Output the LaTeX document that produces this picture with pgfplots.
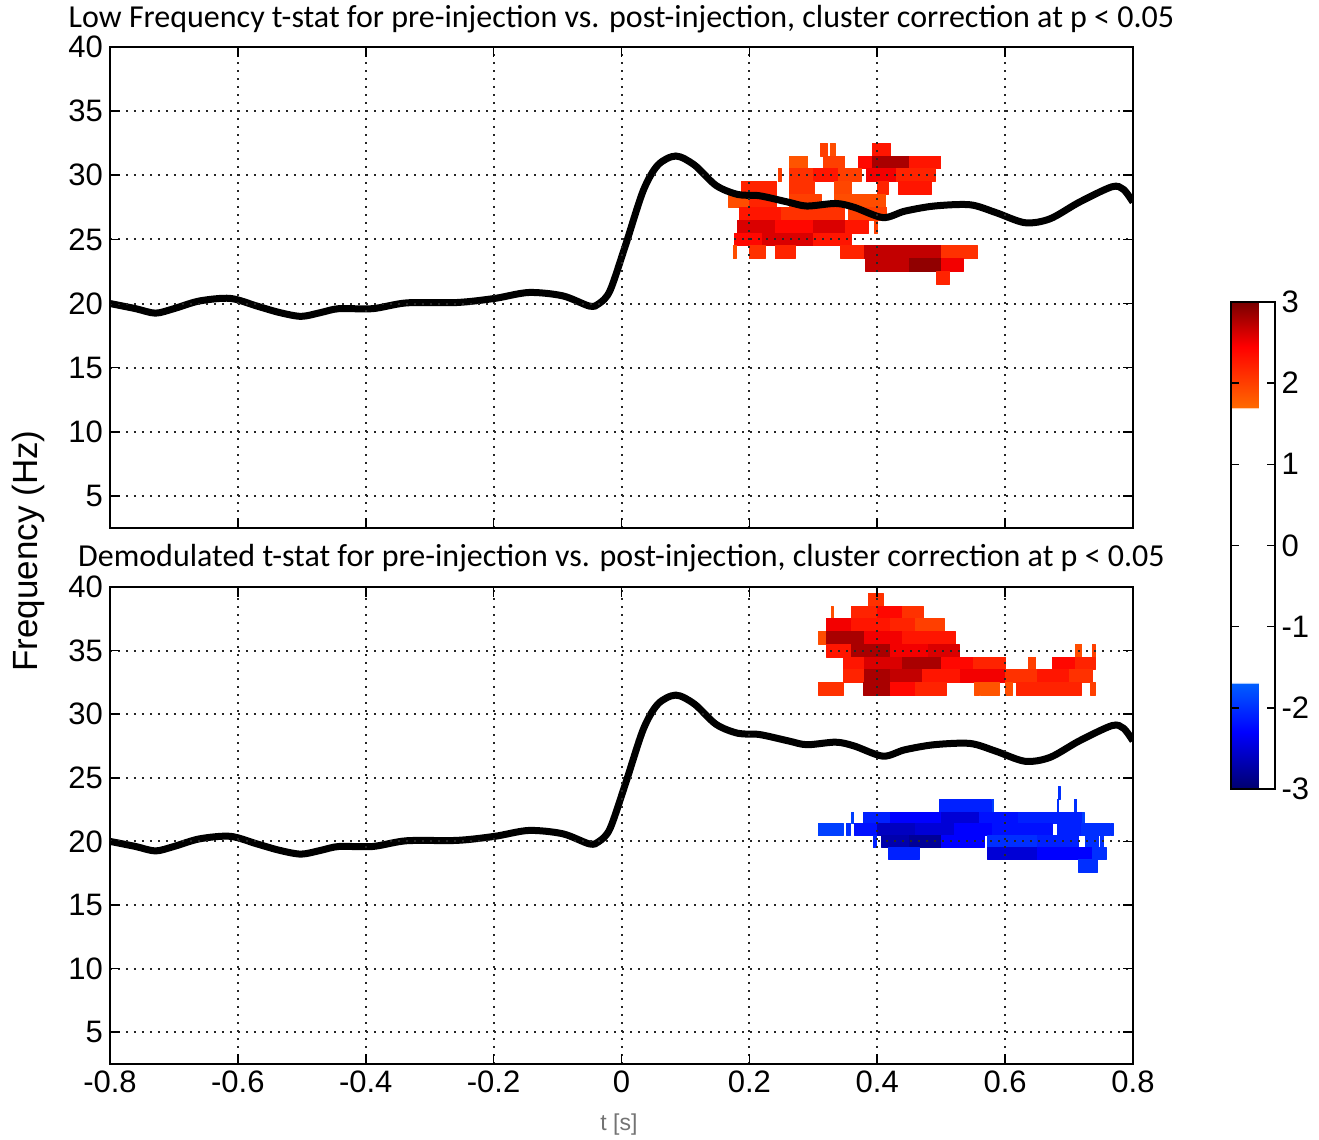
\documentclass[border=0pt]{standalone}
\usepackage{fontspec}
\setmainfont{Liberation Sans}
\newfontfamily\carlito{Carlito}
\usepackage{pgfplots}
\pgfplotsset{compat=1.18}
\usepgfplotslibrary{patchplots}
\usepackage{pgfplotstable}
\pgfkeys{/pgf/number format/assume math mode=true}

\pgfplotstableread{
x y
-0.8 20.0
-0.76 19.6
-0.729 19.25
-0.70 19.6
-0.66 20.2
-0.612 20.4
-0.57 19.8
-0.535 19.3
-0.501 19.0
-0.47 19.3
-0.442 19.6
-0.389 19.6
-0.336 20.05
-0.257 20.08
-0.198 20.4
-0.145 20.86
-0.092 20.6
-0.05 19.8
-0.035 20.0
-0.018 21.0
0.006 24.5
0.034 28.8
0.057 30.8
0.085 31.5
0.114 30.8
0.148 29.2
0.182 28.5
0.216 28.4
0.261 27.9
0.290 27.6
0.335 27.8
0.364 27.5
0.409 26.7
0.443 27.2
0.489 27.6
0.545 27.7
0.585 27.1
0.631 26.3
0.670 26.6
0.716 27.9
0.767 29.1
0.785 28.9
0.8 27.9
}\peak

\pgfplotsset{
  colormap={tstat}{rgb255(0cm)=(0,0,110) rgb255(0.7cm)=(0,0,255) rgb255(1.3cm)=(0,95,255) rgb255(1.31cm)=(255,255,255) rgb255(4.69cm)=(255,255,255) rgb255(4.7cm)=(255,105,0) rgb255(5.45cm)=(255,0,0) rgb255(6cm)=(120,0,0)},
  myax/.style={
    scale only axis, width=511.5pt,
    xmin=-0.8, xmax=0.8, ymin=2.5, ymax=40,
    xtick={-0.8,-0.6,-0.4,-0.2,0,0.2,0.4,0.6,0.8},
    ytick={5,10,15,20,25,30,35,40},
    tick align=inside, major tick length=5pt,
    xmajorgrids, ymajorgrids,
    grid style={black!85, line width=1pt, dash pattern=on 1pt off 3pt},
    axis line style={line width=1pt},
    tick style={black, line width=0.8pt},
    tick label style={font=\fontsize{15.5}{16}\selectfont},
    axis on top,
    colormap name=tstat, point meta min=-3, point meta max=3,
    title style={font=\carlito\fontsize{16}{18}\selectfont, at={(0.5,1)}, anchor=base},
  },
  cells/.style={patch, patch type=rectangle, shader=flat, point meta=explicit, draw=none},
  trace/.style={black, line width=3.5pt, smooth, no marks},
}

\begin{document}
\begin{tikzpicture}
\useasboundingbox (-55pt,-38pt) rectangle (604.5pt,532pt);

% ---------------- top panel ----------------
\begin{axis}[myax, at={(0pt,268pt)}, anchor=south west, height=240.5pt,
  xticklabels={},
  title style={yshift=3.5pt},
  title={Low Frequency t-stat for pre-injection vs. post-injection, cluster correction at p < 0.05}]
\addplot[cells] coordinates {
(0.311,31.5)[2.0] (0.322,31.5)[2.0] (0.322,32.5)[2.0] (0.311,32.5)[2.0]
(0.326,31.5)[1.9] (0.334,31.5)[1.9] (0.334,32.5)[1.9] (0.326,32.5)[1.9]
(0.392,31.5)[2.3] (0.420,31.5)[2.3] (0.420,32.5)[2.3] (0.392,32.5)[2.3]
(0.262,30.5)[1.85] (0.291,30.5)[1.85] (0.291,31.5)[1.85] (0.262,31.5)[1.85]
(0.316,30.5)[2.0] (0.349,30.5)[2.0] (0.349,31.5)[2.0] (0.316,31.5)[2.0]
(0.370,30.5)[2.4] (0.392,30.5)[2.4] (0.392,31.5)[2.4] (0.370,31.5)[2.4]
(0.392,30.5)[2.8] (0.450,30.5)[2.8] (0.450,31.5)[2.8] (0.392,31.5)[2.8]
(0.450,30.5)[2.3] (0.499,30.5)[2.3] (0.499,31.5)[2.3] (0.450,31.5)[2.3]
(0.245,29.5)[2.0] (0.250,29.5)[2.0] (0.250,30.5)[2.0] (0.245,30.5)[2.0]
(0.262,29.5)[2.1] (0.300,29.5)[2.1] (0.300,30.5)[2.1] (0.262,30.5)[2.1]
(0.300,29.5)[2.3] (0.340,29.5)[2.3] (0.340,30.5)[2.3] (0.300,30.5)[2.3]
(0.340,29.5)[2.0] (0.375,29.5)[2.0] (0.375,30.5)[2.0] (0.340,30.5)[2.0]
(0.383,29.5)[2.5] (0.430,29.5)[2.5] (0.430,30.5)[2.5] (0.383,30.5)[2.5]
(0.430,29.5)[2.2] (0.491,29.5)[2.2] (0.491,30.5)[2.2] (0.430,30.5)[2.2]
(0.188,28.5)[2.2] (0.243,28.5)[2.2] (0.243,29.5)[2.2] (0.188,29.5)[2.2]
(0.262,28.5)[2.1] (0.302,28.5)[2.1] (0.302,29.5)[2.1] (0.262,29.5)[2.1]
(0.333,28.5)[1.95] (0.359,28.5)[1.95] (0.359,29.5)[1.95] (0.333,29.5)[1.95]
(0.401,28.5)[2.2] (0.417,28.5)[2.2] (0.417,29.5)[2.2] (0.401,29.5)[2.2]
(0.433,28.5)[2.3] (0.485,28.5)[2.3] (0.485,29.5)[2.3] (0.433,29.5)[2.3]
(0.167,27.5)[1.9] (0.200,27.5)[1.9] (0.200,28.5)[1.9] (0.167,28.5)[1.9]
(0.200,27.5)[2.2] (0.243,27.5)[2.2] (0.243,28.5)[2.2] (0.200,28.5)[2.2]
(0.262,27.5)[2.0] (0.312,27.5)[2.0] (0.312,28.5)[2.0] (0.262,28.5)[2.0]
(0.333,27.5)[1.9] (0.412,27.5)[1.9] (0.412,28.5)[1.9] (0.333,28.5)[1.9]
(0.185,26.5)[2.3] (0.250,26.5)[2.3] (0.250,27.5)[2.3] (0.185,27.5)[2.3]
(0.250,26.5)[2.1] (0.349,26.5)[2.1] (0.349,27.5)[2.1] (0.250,27.5)[2.1]
(0.355,26.5)[2.0] (0.415,26.5)[2.0] (0.415,27.5)[2.0] (0.355,27.5)[2.0]
(0.182,25.5)[2.6] (0.240,25.5)[2.6] (0.240,26.5)[2.6] (0.182,26.5)[2.6]
(0.240,25.5)[2.4] (0.300,25.5)[2.4] (0.300,26.5)[2.4] (0.240,26.5)[2.4]
(0.300,25.5)[2.6] (0.350,25.5)[2.6] (0.350,26.5)[2.6] (0.300,26.5)[2.6]
(0.350,25.5)[2.3] (0.386,25.5)[2.3] (0.386,26.5)[2.3] (0.350,26.5)[2.3]
(0.396,25.5)[2.0] (0.400,25.5)[2.0] (0.400,26.5)[2.0] (0.396,26.5)[2.0]
(0.177,24.5)[2.4] (0.220,24.5)[2.4] (0.220,25.5)[2.4] (0.177,25.5)[2.4]
(0.220,24.5)[2.6] (0.300,24.5)[2.6] (0.300,25.5)[2.6] (0.220,25.5)[2.6]
(0.300,24.5)[2.3] (0.360,24.5)[2.3] (0.360,25.5)[2.3] (0.300,25.5)[2.3]
(0.175,23.5)[1.9] (0.179,23.5)[1.9] (0.179,24.5)[1.9] (0.175,24.5)[1.9]
(0.200,23.5)[2.1] (0.225,23.5)[2.1] (0.225,24.5)[2.1] (0.200,24.5)[2.1]
(0.240,23.5)[2.2] (0.272,23.5)[2.2] (0.272,24.5)[2.2] (0.240,24.5)[2.2]
(0.343,23.5)[2.2] (0.380,23.5)[2.2] (0.380,24.5)[2.2] (0.343,24.5)[2.2]
(0.380,23.5)[2.7] (0.500,23.5)[2.7] (0.500,24.5)[2.7] (0.380,24.5)[2.7]
(0.500,23.5)[2.1] (0.557,23.5)[2.1] (0.557,24.5)[2.1] (0.500,24.5)[2.1]
(0.381,22.5)[2.7] (0.450,22.5)[2.7] (0.450,23.5)[2.7] (0.381,23.5)[2.7]
(0.450,22.5)[2.9] (0.500,22.5)[2.9] (0.500,23.5)[2.9] (0.450,23.5)[2.9]
(0.500,22.5)[2.5] (0.534,22.5)[2.5] (0.534,23.5)[2.5] (0.500,23.5)[2.5]
(0.492,21.5)[2.2] (0.513,21.5)[2.2] (0.513,22.5)[2.2] (0.492,22.5)[2.2]
};
\addplot[trace] table {\peak};
\end{axis}

% ---------------- bottom panel ----------------
\begin{axis}[myax, at={(0pt,0pt)}, anchor=south west, height=238.5pt,
  title style={yshift=4pt},
  title={Demodulated t-stat for pre-injection vs. post-injection, cluster correction at p < 0.05},
  colorbar,
  colorbar shift/.style={xshift=29.5pt, yshift=142.5pt},
  colorbar style={
    width=22pt, height=243.5pt,
    ytick={-3,-2,-1,0,1,2,3},
    yticklabel pos=right, ytick pos=both,
    tick align=inside, major tick length=4pt,
    tick style={black, line width=0.8pt},
    yticklabel style={font=\fontsize{15.5}{16}\selectfont},
    axis line style={line width=1pt},
  }]
\addplot[cells] coordinates {
(0.386,38.5)[2.1] (0.409,38.5)[2.1] (0.409,39.5)[2.1] (0.386,39.5)[2.1]
(0.328,37.5)[1.9] (0.331,37.5)[1.9] (0.331,38.5)[1.9] (0.328,38.5)[1.9]
(0.360,37.5)[2.2] (0.400,37.5)[2.2] (0.400,38.5)[2.2] (0.360,38.5)[2.2]
(0.400,37.5)[2.4] (0.440,37.5)[2.4] (0.440,38.5)[2.4] (0.400,38.5)[2.4]
(0.440,37.5)[2.1] (0.472,37.5)[2.1] (0.472,38.5)[2.1] (0.440,38.5)[2.1]
(0.321,36.5)[2.5] (0.360,36.5)[2.5] (0.360,37.5)[2.5] (0.321,37.5)[2.5]
(0.360,36.5)[2.3] (0.420,36.5)[2.3] (0.420,37.5)[2.3] (0.360,37.5)[2.3]
(0.420,36.5)[2.2] (0.460,36.5)[2.2] (0.460,37.5)[2.2] (0.420,37.5)[2.2]
(0.460,36.5)[2.0] (0.505,36.5)[2.0] (0.505,37.5)[2.0] (0.460,37.5)[2.0]
(0.308,35.5)[1.9] (0.320,35.5)[1.9] (0.320,36.5)[1.9] (0.308,36.5)[1.9]
(0.320,35.5)[2.8] (0.380,35.5)[2.8] (0.380,36.5)[2.8] (0.320,36.5)[2.8]
(0.380,35.5)[2.5] (0.440,35.5)[2.5] (0.440,36.5)[2.5] (0.380,36.5)[2.5]
(0.440,35.5)[2.3] (0.523,35.5)[2.3] (0.523,36.5)[2.3] (0.440,36.5)[2.3]
(0.321,34.5)[2.3] (0.360,34.5)[2.3] (0.360,35.5)[2.3] (0.321,35.5)[2.3]
(0.360,34.5)[2.8] (0.420,34.5)[2.8] (0.420,35.5)[2.8] (0.360,35.5)[2.8]
(0.420,34.5)[2.5] (0.480,34.5)[2.5] (0.480,35.5)[2.5] (0.420,35.5)[2.5]
(0.480,34.5)[2.6] (0.528,34.5)[2.6] (0.528,35.5)[2.6] (0.480,35.5)[2.6]
(0.710,34.5)[1.9] (0.720,34.5)[1.9] (0.720,35.5)[1.9] (0.710,35.5)[1.9]
(0.736,34.5)[2.0] (0.741,34.5)[2.0] (0.741,35.5)[2.0] (0.736,35.5)[2.0]
(0.347,33.5)[2.3] (0.380,33.5)[2.3] (0.380,34.5)[2.3] (0.347,34.5)[2.3]
(0.380,33.5)[2.6] (0.440,33.5)[2.6] (0.440,34.5)[2.6] (0.380,34.5)[2.6]
(0.440,33.5)[2.8] (0.500,33.5)[2.8] (0.500,34.5)[2.8] (0.440,34.5)[2.8]
(0.500,33.5)[2.4] (0.550,33.5)[2.4] (0.550,34.5)[2.4] (0.500,34.5)[2.4]
(0.550,33.5)[2.2] (0.601,33.5)[2.2] (0.601,34.5)[2.2] (0.550,34.5)[2.2]
(0.637,33.5)[2.0] (0.648,33.5)[2.0] (0.648,34.5)[2.0] (0.637,34.5)[2.0]
(0.674,33.5)[2.4] (0.710,33.5)[2.4] (0.710,34.5)[2.4] (0.674,34.5)[2.4]
(0.710,33.5)[2.2] (0.741,33.5)[2.2] (0.741,34.5)[2.2] (0.710,34.5)[2.2]
(0.347,32.5)[2.2] (0.380,32.5)[2.2] (0.380,33.5)[2.2] (0.347,33.5)[2.2]
(0.380,32.5)[2.8] (0.420,32.5)[2.8] (0.420,33.5)[2.8] (0.380,33.5)[2.8]
(0.420,32.5)[2.7] (0.470,32.5)[2.7] (0.470,33.5)[2.7] (0.420,33.5)[2.7]
(0.470,32.5)[2.3] (0.530,32.5)[2.3] (0.530,33.5)[2.3] (0.470,33.5)[2.3]
(0.530,32.5)[2.5] (0.600,32.5)[2.5] (0.600,33.5)[2.5] (0.530,33.5)[2.5]
(0.600,32.5)[2.1] (0.650,32.5)[2.1] (0.650,33.5)[2.1] (0.600,33.5)[2.1]
(0.650,32.5)[2.3] (0.700,32.5)[2.3] (0.700,33.5)[2.3] (0.650,33.5)[2.3]
(0.700,32.5)[2.1] (0.736,32.5)[2.1] (0.736,33.5)[2.1] (0.700,33.5)[2.1]
(0.308,31.5)[2.1] (0.347,31.5)[2.1] (0.347,32.5)[2.1] (0.308,32.5)[2.1]
(0.378,31.5)[2.8] (0.420,31.5)[2.8] (0.420,32.5)[2.8] (0.378,32.5)[2.8]
(0.420,31.5)[2.4] (0.460,31.5)[2.4] (0.460,32.5)[2.4] (0.420,32.5)[2.4]
(0.460,31.5)[2.2] (0.508,31.5)[2.2] (0.508,32.5)[2.2] (0.460,32.5)[2.2]
(0.552,31.5)[1.9] (0.560,31.5)[1.9] (0.560,32.5)[1.9] (0.552,32.5)[1.9]
(0.562,31.5)[1.85] (0.591,31.5)[1.85] (0.591,32.5)[1.85] (0.562,32.5)[1.85]
(0.601,31.5)[1.9] (0.611,31.5)[1.9] (0.611,32.5)[1.9] (0.601,32.5)[1.9]
(0.617,31.5)[2.2] (0.720,31.5)[2.2] (0.720,32.5)[2.2] (0.617,32.5)[2.2]
(0.733,31.5)[2.0] (0.741,31.5)[2.0] (0.741,32.5)[2.0] (0.733,32.5)[2.0]
};
\addplot[cells] coordinates {
(0.684,23.3)[-2.0] (0.687,23.3)[-2.0] (0.687,24.3)[-2.0] (0.684,24.3)[-2.0]
(0.497,22.3)[-2.1] (0.578,22.3)[-2.1] (0.578,23.3)[-2.1] (0.497,23.3)[-2.1]
(0.580,22.3)[-1.9] (0.582,22.3)[-1.9] (0.582,23.3)[-1.9] (0.580,23.3)[-1.9]
(0.681,22.3)[-2.0] (0.684,22.3)[-2.0] (0.684,23.3)[-2.0] (0.681,23.3)[-2.0]
(0.709,22.3)[-2.0] (0.712,22.3)[-2.0] (0.712,23.3)[-2.0] (0.709,23.3)[-2.0]
(0.360,21.4)[-1.9] (0.363,21.4)[-1.9] (0.363,22.3)[-1.9] (0.360,22.3)[-1.9]
(0.378,21.4)[-2.1] (0.420,21.4)[-2.1] (0.420,22.3)[-2.1] (0.378,22.3)[-2.1]
(0.420,21.4)[-2.3] (0.500,21.4)[-2.3] (0.500,22.3)[-2.3] (0.420,22.3)[-2.3]
(0.500,21.4)[-2.5] (0.560,21.4)[-2.5] (0.560,22.3)[-2.5] (0.500,22.3)[-2.5]
(0.560,21.4)[-2.2] (0.620,21.4)[-2.2] (0.620,22.3)[-2.2] (0.560,22.3)[-2.2]
(0.620,21.4)[-2.1] (0.720,21.4)[-2.1] (0.720,22.3)[-2.1] (0.620,22.3)[-2.1]
(0.721,21.4)[-1.9] (0.724,21.4)[-1.9] (0.724,22.3)[-1.9] (0.721,22.3)[-1.9]
(0.308,20.45)[-1.9] (0.347,20.45)[-1.9] (0.347,21.4)[-1.9] (0.308,21.4)[-1.9]
(0.352,20.45)[-2.0] (0.358,20.45)[-2.0] (0.358,21.4)[-2.0] (0.352,21.4)[-2.0]
(0.365,20.45)[-2.2] (0.400,20.45)[-2.2] (0.400,21.4)[-2.2] (0.365,21.4)[-2.2]
(0.400,20.45)[-2.6] (0.460,20.45)[-2.6] (0.460,21.4)[-2.6] (0.400,21.4)[-2.6]
(0.460,20.45)[-2.5] (0.520,20.45)[-2.5] (0.520,21.4)[-2.5] (0.460,21.4)[-2.5]
(0.520,20.45)[-2.3] (0.580,20.45)[-2.3] (0.580,21.4)[-2.3] (0.520,21.4)[-2.3]
(0.580,20.45)[-2.2] (0.674,20.45)[-2.2] (0.674,21.4)[-2.2] (0.580,21.4)[-2.2]
(0.681,20.45)[-2.1] (0.720,20.45)[-2.1] (0.720,21.4)[-2.1] (0.681,21.4)[-2.1]
(0.720,20.45)[-2.0] (0.764,20.45)[-2.0] (0.764,21.4)[-2.0] (0.720,21.4)[-2.0]
(0.766,20.45)[-2.0] (0.769,20.45)[-2.0] (0.769,21.4)[-2.0] (0.766,21.4)[-2.0]
(0.394,19.5)[-2.1] (0.399,19.5)[-2.1] (0.399,20.45)[-2.1] (0.394,20.45)[-2.1]
(0.407,19.5)[-2.7] (0.450,19.5)[-2.7] (0.450,20.45)[-2.7] (0.407,20.45)[-2.7]
(0.450,19.5)[-2.8] (0.500,19.5)[-2.8] (0.500,20.45)[-2.8] (0.450,20.45)[-2.8]
(0.500,19.5)[-2.3] (0.567,19.5)[-2.3] (0.567,20.45)[-2.3] (0.500,20.45)[-2.3]
(0.5725,19.5)[-2.0] (0.650,19.5)[-2.0] (0.650,20.45)[-2.0] (0.5725,20.45)[-2.0]
(0.650,19.5)[-2.1] (0.715,19.5)[-2.1] (0.715,20.45)[-2.1] (0.650,20.45)[-2.1]
(0.725,19.5)[-2.0] (0.746,19.5)[-2.0] (0.746,20.45)[-2.0] (0.725,20.45)[-2.0]
(0.749,19.5)[-2.0] (0.754,19.5)[-2.0] (0.754,20.45)[-2.0] (0.749,20.45)[-2.0]
(0.417,18.6)[-2.1] (0.466,18.6)[-2.1] (0.466,19.5)[-2.1] (0.417,19.5)[-2.1]
(0.5725,18.6)[-2.5] (0.650,18.6)[-2.5] (0.650,19.5)[-2.5] (0.5725,19.5)[-2.5]
(0.650,18.6)[-2.3] (0.736,18.6)[-2.3] (0.736,19.5)[-2.3] (0.650,19.5)[-2.3]
(0.736,18.6)[-2.0] (0.759,18.6)[-2.0] (0.759,19.5)[-2.0] (0.736,19.5)[-2.0]
(0.715,17.6)[-2.0] (0.744,17.6)[-2.0] (0.744,18.6)[-2.0] (0.715,18.6)[-2.0]
};
\addplot[trace] table {\peak};
\end{axis}

\node[rotate=90, font=\fontsize{17.5}{20}\selectfont] at (-41pt,256.5pt) {Frequency (Hz)};
\node[text=black!55, font=\fontsize{11.5}{13}\selectfont] at (254.5pt,-30.5pt) {t [s]};
\end{tikzpicture}
\end{document}
